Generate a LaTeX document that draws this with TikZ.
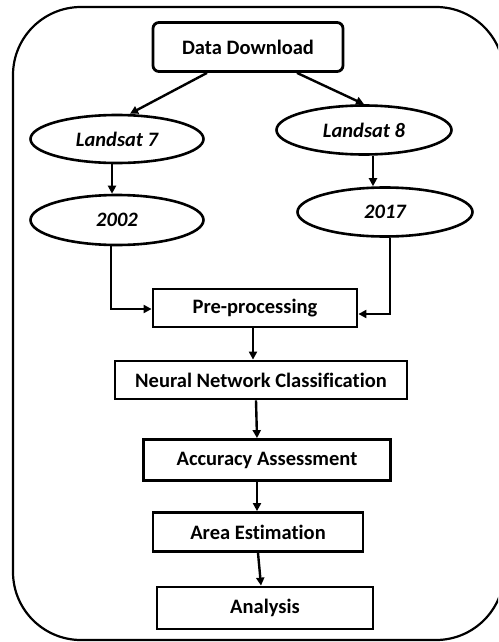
\documentclass[tikz,border=0pt]{standalone}
\usepackage{fontspec}
\setmainfont[Ligatures={NoCommon}]{Carlito}
\usetikzlibrary{shapes.geometric,arrows.meta}
\begin{document}
\begin{tikzpicture}[x=1pt,y=-1pt,
  every node/.style={font=\bfseries\fontsize{20.5}{23}\selectfont},
  boxnode/.style={draw,line width=2.8pt,rectangle,inner sep=0pt},
  ellnode/.style={draw,line width=2.6pt,ellipse,inner sep=0pt,font=\bfseries\itshape\fontsize{20.5}{23}\selectfont},
  arr/.style={line width=2.4pt,-{Triangle[length=8pt,width=8pt]}}]
\clip (0,0) rectangle (498,642);
\useasboundingbox (0,0) rectangle (498,642);
\draw[line width=2.2pt,rounded corners=68pt] (13,7) rectangle (504,640);
\node[boxnode,rounded corners=6pt,minimum width=190pt,minimum height=49pt] (dd) at (248,47) {Data Download};
\node[ellnode,minimum width=173pt,minimum height=48pt] (l7) at (117,139) {Landsat 7};
\node[ellnode,minimum width=175pt,minimum height=49pt] (l8) at (364,130) {Landsat 8};
\node[ellnode,minimum width=173pt,minimum height=50pt] (y2) at (117,220) {2002};
\node[ellnode,minimum width=175pt,minimum height=49pt] (y7) at (385,212) {2017};
\node[boxnode,minimum width=204pt,minimum height=38pt] (pp) at (255,308) {Pre-processing};
\node[boxnode,minimum width=292pt,minimum height=38pt] (nn) at (261,380) {Neural Network Classification};
\node[boxnode,minimum width=247pt,minimum height=41pt] (aa) at (267,460) {Accuracy Assessment};
\node[boxnode,minimum width=210pt,minimum height=39pt] (ae) at (258,532) {Area Estimation};
\node[boxnode,minimum width=216pt,minimum height=42pt] (an) at (265,608) {Analysis};
\draw[arr] ([xshift=-41pt]dd.south) -- (l7.north -| 130,0);
\draw[arr] ([xshift=49pt]dd.south) -- (l8.north);
\draw[arr] (l7.south -| 112,0) -- (y2.north -| 112,0);
\draw[arr] (l8.south -| 373,0) -- (y7.north -| 373,0);
\draw[arr] (y2.south -| 111,0) |- ([yshift=-1pt]pp.west);
\draw[arr] (y7.south -| 390,0) |- ([yshift=-6pt]pp.east);
\draw[arr] (pp.south -| 253,0) -- (nn.north -| 253,0);
\draw[arr] (nn.south -| 256,0) -- (aa.north -| 257,0);
\draw[arr] (aa.south -| 257,0) -- (ae.north -| 257,0);
\draw[arr] (ae.south -| 258,0) -- (an.north -| 261,0);
\end{tikzpicture}
\end{document}
